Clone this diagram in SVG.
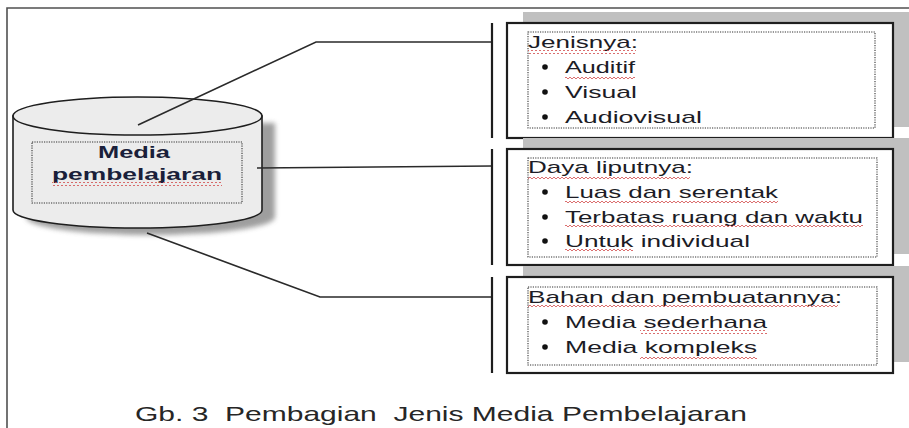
<svg xmlns="http://www.w3.org/2000/svg" width="909" height="428" viewBox="0 0 909 428">
<defs>
<style>
.frame{stroke:#505050;stroke-width:1.6;fill:none}
.conn{stroke:#2a2a2a;stroke-width:1.6;fill:none}
.bar{stroke:#1e1e1e;stroke-width:2.2;fill:none}
.shadow{fill:#c0c0c0}
.box{fill:#ffffff;stroke:#1e1e1e;stroke-width:2.2}
.dot{fill:none;stroke:#333;stroke-width:1.1;stroke-dasharray:1.2,1.2}
.t{font-family:"Liberation Sans",Arial,sans-serif;font-size:17px;fill:#1c1c26}
.b{font-family:"Liberation Sans",Arial,sans-serif;font-size:16px;font-weight:bold;fill:#1a1f3a}
.cap{font-family:"Liberation Sans",Arial,sans-serif;font-size:21px;fill:#262626;white-space:pre}
.bul{fill:#111}
.sq{fill:url(#wave)}
</style>
<pattern id="wave" width="4" height="4" patternUnits="userSpaceOnUse">
<path d="M0 3 L2 1 L4 3" fill="none" stroke="#d24a4a" stroke-width="0.8"/>
</pattern>
<filter id="blur" x="-10%" y="-10%" width="130%" height="130%">
<feGaussianBlur stdDeviation="2.5"/>
</filter>
</defs>
<rect x="0" y="0" width="909" height="428" fill="#ffffff"/>
<g id="frame">
<path class="frame" d="M7 428 L7 8 L909 8"/>
</g>

<g id="media">
<path d="M13 116 L13 210 A124.5 18 0 0 0 262 210 L262 116 Z" transform="translate(13,7)" fill="#8e8e8e" filter="url(#blur)" opacity="0.85"/>
<path d="M13 116 L13 210 A124.5 18 0 0 0 262 210 L262 116 Z" fill="#ececec" stroke="#1e1e1e" stroke-width="1.6"/>
<ellipse cx="137.5" cy="116" rx="124.5" ry="19" fill="#ececec" stroke="#1e1e1e" stroke-width="1.6"/>
<rect class="dot" x="32" y="142" width="210" height="61"/>
<text class="b" x="98" y="158" textLength="72" lengthAdjust="spacingAndGlyphs">Media</text>
<text class="b" x="52" y="180" textLength="170" lengthAdjust="spacingAndGlyphs">pembelajaran</text>
<rect class="sq" x="52" y="182" width="170" height="4"/>
</g>

<g id="jenis">
<rect class="shadow" x="523" y="12" width="386" height="115"/>
<rect class="box" x="507" y="23" width="386" height="115"/>
<rect class="dot" x="528" y="32" width="347" height="96"/>
<text class="t" x="528" y="48" textLength="110" lengthAdjust="spacingAndGlyphs">Jenisnya:</text>
<rect class="sq" x="528" y="50" width="108" height="4"/>
<circle class="bul" cx="545" cy="67" r="2.8"/>
<text class="t" x="565" y="73" textLength="70" lengthAdjust="spacingAndGlyphs">Auditif</text>
<rect class="sq" x="565" y="75" width="70" height="4"/>
<circle class="bul" cx="545" cy="92" r="2.8"/>
<text class="t" x="565" y="98" textLength="72" lengthAdjust="spacingAndGlyphs">Visual</text>
<circle class="bul" cx="545" cy="117" r="2.8"/>
<text class="t" x="565" y="123" textLength="137" lengthAdjust="spacingAndGlyphs">Audiovisual</text>
</g>

<g id="daya">
<rect class="shadow" x="523" y="138" width="386" height="116"/>
<rect class="box" x="507" y="149" width="386" height="116"/>
<rect class="dot" x="528" y="158" width="349" height="99"/>
<text class="t" x="528" y="173" textLength="165" lengthAdjust="spacingAndGlyphs">Daya liputnya:</text>
<rect class="sq" x="528" y="175" width="162" height="4"/>
<circle class="bul" cx="545" cy="192" r="2.8"/>
<text class="t" x="565" y="198" textLength="213" lengthAdjust="spacingAndGlyphs">Luas dan serentak</text>
<rect class="sq" x="565" y="200" width="213" height="4"/>
<circle class="bul" cx="545" cy="217" r="2.8"/>
<text class="t" x="565" y="223" textLength="298" lengthAdjust="spacingAndGlyphs">Terbatas ruang dan waktu</text>
<rect class="sq" x="565" y="225" width="298" height="4"/>
<circle class="bul" cx="545" cy="241" r="2.8"/>
<text class="t" x="565" y="247" textLength="185" lengthAdjust="spacingAndGlyphs">Untuk individual</text>
<rect class="sq" x="565" y="249" width="68" height="4"/>
</g>

<g id="bahan">
<rect class="shadow" x="523" y="266" width="386" height="96"/>
<rect class="box" x="507" y="277" width="386" height="96"/>
<rect class="dot" x="528" y="287" width="349" height="78"/>
<text class="t" x="528" y="303" textLength="314" lengthAdjust="spacingAndGlyphs">Bahan dan pembuatannya:</text>
<rect class="sq" x="528" y="305" width="310" height="4"/>
<circle class="bul" cx="545" cy="322" r="2.8"/>
<text class="t" x="565" y="328" textLength="202" lengthAdjust="spacingAndGlyphs">Media sederhana</text>
<rect class="sq" x="640" y="330" width="127" height="4"/>
<circle class="bul" cx="545" cy="347" r="2.8"/>
<text class="t" x="565" y="353" textLength="192" lengthAdjust="spacingAndGlyphs">Media kompleks</text>
<rect class="sq" x="640" y="355" width="117" height="4"/>
</g>

<g id="connectors">
<path class="conn" d="M138 125 L316 42 L492 42"/>
<path class="conn" d="M257 168 L492 166"/>
<path class="conn" d="M147 233 L320 297 L492 297"/>
<path class="bar" d="M492 23 L492 138"/>
<path class="bar" d="M492 149 L492 265"/>
<path class="bar" d="M492 277 L492 373"/>
</g>

<g id="caption">
<text class="cap" x="135" y="421" textLength="612" lengthAdjust="spacingAndGlyphs" xml:space="preserve">Gb. 3  Pembagian  Jenis Media Pembelajaran</text>
</g>
</svg>
